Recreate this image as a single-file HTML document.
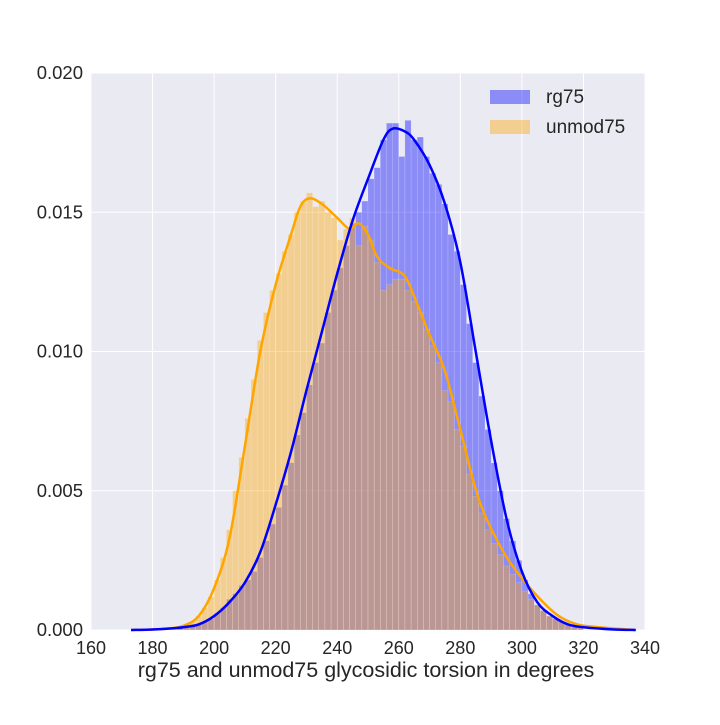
<!DOCTYPE html>
<html><head><meta charset="utf-8"><style>
body{margin:0;background:#fff;}
svg text{font-family:"Liberation Sans",Arial,sans-serif;fill:#262626;}
</style></head><body>
<svg id="chart" width="720" height="720" xmlns="http://www.w3.org/2000/svg"></svg>
<script>
const xTicks=[160,180,200,220,240,260,280,300,320,340];
const yTicks=[0,0.005,0.010,0.015,0.020];
const yTickLabels=["0.000","0.005","0.010","0.015","0.020"];
const binWidth=2;
const blueBinStart=186;
const blueHist=[0,1,1,2,2,3,4,6,8,11,13,16,18,21,26,32,38,44,52,60,70,78,88,96,103,114,122,130,138,146,150,154,162,166,176,182,182,170,183,176,177,170,164,160,153,142,136,124,110,96,84,72,60,50,40,32,25,18,13,9,7,5,4,3,2,1,1,0];
const orangeBinStart=180;
const orangeHist=[0,0,1,1,1,2,3,5,8,12,18,26,36,50,62,76,90,104,114,122,128,136,142,150,154,157,152,154,150,148,140,144,148,138,145,140,132,122,124,126,126,122,118,114,108,102,96,86,82,72,66,56,48,42,36,31,27,23,20,17,14,11,9,7,5,4,3,2,1,1];
const blueKdeX=[173,180,185,190,195,200,205,210,215,220,225,230,235,240,245,250,255,258,262,265,270,275,280,285,290,295,300,305,310,315,320,330,337];
const blueKdeY=[0,0.00002,0.00005,0.0001,0.0002,0.0005,0.0010,0.0017,0.0028,0.0045,0.0064,0.0086,0.0107,0.0128,0.0147,0.0162,0.0176,0.0180,0.0179,0.0176,0.0167,0.0153,0.0132,0.0100,0.0068,0.0040,0.0021,0.0010,0.0005,0.0002,0.0001,0.00002,0];
const orangeKdeX=[173,180,185,190,195,200,205,210,215,220,225,228,231,235,240,244,247,250,253,257,262,266,270,275,280,286,293,299,306,312,318,325,337];
const orangeKdeY=[0,0.00002,0.00005,0.00015,0.0005,0.0015,0.0033,0.0066,0.0100,0.0124,0.0142,0.0152,0.0155,0.0153,0.0148,0.0144,0.0146,0.0142,0.0134,0.0130,0.0127,0.0117,0.0106,0.0093,0.0072,0.0047,0.0030,0.0020,0.0011,0.0005,0.0002,0.0001,0];

const X0=91,X1=645,Y0=630,Y1=73;
const xs=v=>X0+(v-160)/(340-160)*(X1-X0);
const ys=v=>Y0-(v/0.020)*(Y0-Y1);
const svg=document.getElementById('chart');
const NS='http://www.w3.org/2000/svg';
function mk(tag,attrs,parent){const e=document.createElementNS(NS,tag);for(const k in attrs)e.setAttribute(k,attrs[k]);(parent||svg).appendChild(e);return e;}

const bg=mk('rect',{x:X0,y:Y1,width:X1-X0,height:Y0-Y1,fill:'#EAEAF2'});


xTicks.forEach(t=>{
  const l=mk('line',{x1:xs(t),x2:xs(t),y1:Y1,y2:Y0,stroke:'#fff','stroke-width':1});
  
  
  const tx=mk('text',{x:xs(t),y:Y0+24,'text-anchor':'middle','font-size':18});
  tx.textContent=t;
  
  
});
yTicks.forEach((t,i)=>{
  const l=mk('line',{x1:X0,x2:X1,y1:ys(t),y2:ys(t),stroke:'#fff','stroke-width':1});
  
  
  const tx=mk('text',{x:X0-8,y:ys(t)+6,'text-anchor':'end','font-size':18.5});
  tx.textContent=yTickLabels[i];
  
  
});
function hist(start,vals,color,name){
  vals.forEach((v,i)=>{
    const d=v*1e-4; if(d<=0)return;
    const x0=xs(start+i*binWidth),x1=xs(start+(i+1)*binWidth);
    const r=mk('rect',{x:x0,y:ys(d),width:x1-x0,height:Y0-ys(d),fill:color,'fill-opacity':0.4,stroke:'#fff','stroke-opacity':0.25,'stroke-width':0.5});
    
    
  });
}
hist(blueBinStart,blueHist,'#0000ff','rg75-bar');
hist(orangeBinStart,orangeHist,'#ffa500','unmod75-bar');
function kde(xa,ya,color,name){
  const pts=xa.map((x,i)=>[xs(x),ys(ya[i])]);
  let d='M'+pts[0][0]+','+pts[0][1];
  for(let i=1;i<pts.length;i++){
    const p0=pts[Math.max(0,i-2)],p1=pts[i-1],p2=pts[i],p3=pts[Math.min(pts.length-1,i+1)];
    const c1=[p1[0]+(p2[0]-p0[0])/6,p1[1]+(p2[1]-p0[1])/6],c2=[p2[0]-(p3[0]-p1[0])/6,p2[1]-(p3[1]-p1[1])/6];
    d+=' C'+c1+' '+c2+' '+p2;
  }
  const p=mk('path',{d:d,fill:'none',stroke:color,'stroke-width':2.5,'stroke-linejoin':'round'});
  
  
}
kde(orangeKdeX,orangeKdeY,'#ffa500','unmod75-kde-line');
kde(blueKdeX,blueKdeY,'#0000ff','rg75-kde-line');

const xl=mk('text',{x:(X0+X1)/2-2,y:677,'text-anchor':'middle','font-size':21.5});
xl.textContent='rg75 and unmod75 glycosidic torsion in degrees';



const lg=mk('g',{});


[['rg75','#0000ff',97],['unmod75','#ffa500',127]].forEach(([t,c,y])=>{
  const r=mk('rect',{x:490,y:y-7,width:40,height:14,fill:c,'fill-opacity':0.4},lg);
  
  
  const tx=mk('text',{x:546,y:y+6,'font-size':19},lg);
  tx.textContent=t;
  
  
});
</script>
</body></html>
